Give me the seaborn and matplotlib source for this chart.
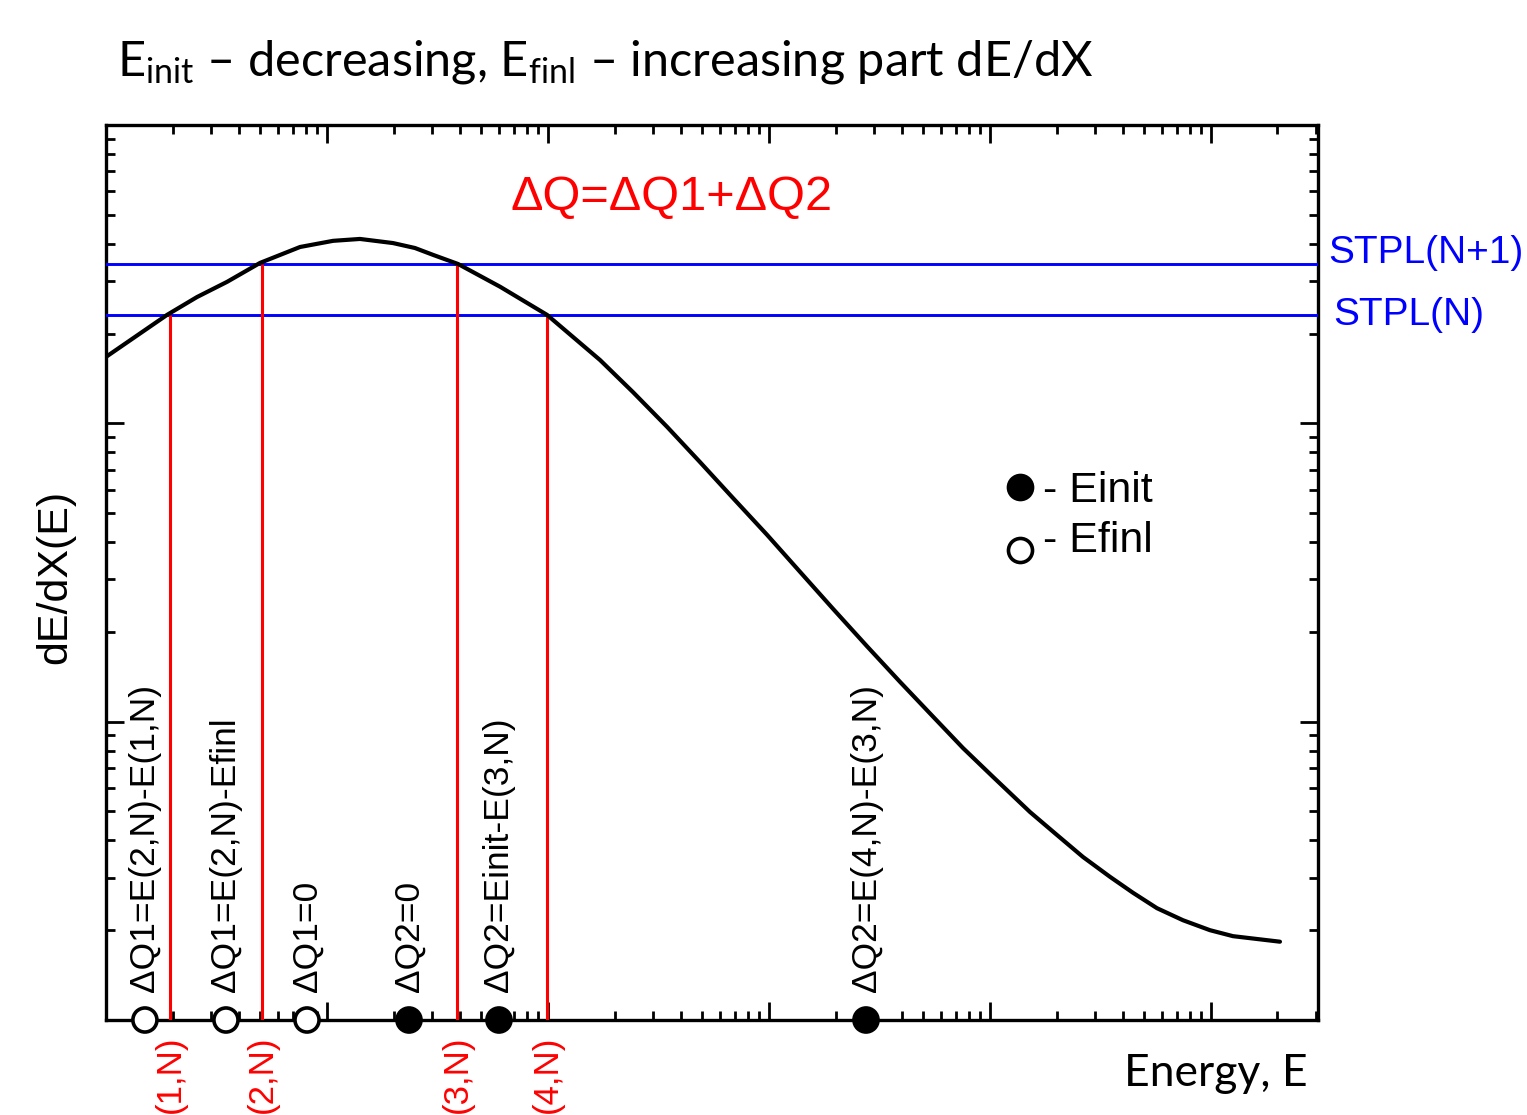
import numpy as np
import pandas as pd
import matplotlib
matplotlib.use("Agg")
import matplotlib.pyplot as plt
import matplotlib.transforms as mtransforms
from matplotlib.ticker import LogLocator, NullFormatter
import seaborn as sns

# Stopping-power curve dE/dX(E)
energy = [1.0, 1.89, 2.58, 3.53, 4.98, 7.55, 10.65, 14.1, 19.9, 25.0, 30.2, 39.2,
          60.7, 99.0, 172, 242, 346, 487, 687, 980, 1381, 1948, 2776, 3915,
          5523, 7547, 10320, 15170, 20100, 26350, 34910, 44370, 56990, 74690,
          98970, 125750, 205200]
dedx = [167, 231, 265, 298, 345, 390, 409, 415, 402, 387, 367, 342,
        287, 231, 163, 127.4, 97.3, 74.2, 56.2, 42.3, 31.8, 23.9, 17.9, 13.6,
        10.4, 8.16, 6.53, 4.98, 4.17, 3.52, 3.02, 2.67, 2.37, 2.16,
        2.00, 1.91, 1.83]

# Tabulated stopping-power levels
stpl_levels = [231, 342]
stpl_labels = ["STPL(N)", "STPL(N+1)"]

# Crossing energies E(k,N) of the curve with the levels
cross_energy = [1.95, 5.08, 38.7, 99.0]
cross_level = [231, 342, 342, 231]
cross_labels = ["(1,N)", "(2,N)", "(3,N)", "(4,N)"]

# Final and initial energies with the resulting energy-loss pieces
efinl = [1.50, 3.49, 8.12]
efinl_notes = ["ΔQ1=E(2,N)-E(1,N)", "ΔQ1=E(2,N)-Efinl", "ΔQ1=0"]
einit = [23.5, 60.0, 2748]
einit_notes = ["ΔQ2=0", "ΔQ2=Einit-E(3,N)", "ΔQ2=E(4,N)-E(3,N)"]

sns.set_style("ticks")
plt.rcParams["font.family"] = ["Liberation Sans", "DejaVu Sans"]
plt.rcParams["text.color"] = "black"
plt.rcParams["mathtext.fontset"] = "custom"
plt.rcParams["mathtext.rm"] = "Lato"
plt.rcParams["mathtext.it"] = "Lato:italic"

W, H = 1527, 1115
fig = plt.figure(figsize=(W / 100, H / 100), dpi=100)
ax = fig.add_axes([106 / W, 1 - 1020 / H, 1212 / W, 895 / H])
ax.set_xscale("log")
ax.set_yscale("log")
ax.set_xlim(1, 3.05e5)
ax.set_ylim(1, 1000)

curve = pd.DataFrame({"E": energy, "dEdX": dedx})
sns.lineplot(data=curve, x="E", y="dEdX", ax=ax, color="black", lw=3.0,
             sort=False, zorder=4)

for lvl in stpl_levels:
    ax.axhline(lvl, color="#0000ff", lw=2.1, zorder=3)
ax.vlines(cross_energy, 1, cross_level, colors="#ff0000", lw=2.2, zorder=3.5)

pts = pd.DataFrame({"E": efinl + einit,
                    "kind": ["Efinl"] * len(efinl) + ["Einit"] * len(einit),
                    "y": [1.0] * (len(efinl) + len(einit))})
sns.scatterplot(data=pts, x="E", y="y", hue="kind",
                palette={"Efinl": "white", "Einit": "black"},
                edgecolor="black", linewidth=2.6, s=300, legend=False,
                ax=ax, zorder=6, clip_on=False)

# Axis styling: log ticks inside on all four sides, no tick labels
for axis in (ax.xaxis, ax.yaxis):
    axis.set_major_locator(LogLocator(base=10, numticks=20))
    axis.set_minor_locator(LogLocator(base=10, subs=np.arange(2, 10), numticks=20))
    axis.set_major_formatter(NullFormatter())
    axis.set_minor_formatter(NullFormatter())
ax.tick_params(which="both", direction="in", top=True, right=True,
               labelbottom=False, labelleft=False, width=2, color="black")
ax.tick_params(which="major", length=13)
ax.tick_params(which="minor", length=6.5)
for s in ax.spines.values():
    s.set_linewidth(2.4)
    s.set_color("black")
ax.set_xlabel("")
ax.set_ylabel("")

trans = mtransforms.blended_transform_factory(ax.transData, ax.transAxes)
for x, t in zip(efinl + einit, efinl_notes + einit_notes):
    ax.text(x, 0.031, t, transform=trans, rotation=90, ha="center",
            va="bottom", fontsize=25.5, color="black")
for x, t in zip(cross_energy, cross_labels):
    ax.text(x, -0.017, t, transform=trans, rotation=90, ha="center",
            va="top", fontsize=25, color="#ff0000", clip_on=False)

ax.text((672 - 106) / 1212, (1020 - 210) / 895, "ΔQ=ΔQ1+ΔQ2",
        transform=ax.transAxes, ha="center", va="baseline",
        color="#ff0000", fontsize=35)
ax.text((1328 - 106) / 1212, (1020 - 263) / 895, stpl_labels[1],
        transform=ax.transAxes, ha="left", va="baseline",
        color="#0000ff", fontsize=28, clip_on=False)
ax.text((1333 - 106) / 1212, (1020 - 325) / 895, stpl_labels[0],
        transform=ax.transAxes, ha="left", va="baseline",
        color="#0000ff", fontsize=28, clip_on=False)

# Marker key
ax.scatter([(1020 - 106) / 1212], [(1020 - 487) / 895], transform=ax.transAxes,
           s=300, c="black", edgecolors="black", linewidths=2.6, zorder=6)
ax.scatter([(1020 - 106) / 1212], [(1020 - 550) / 895], transform=ax.transAxes,
           s=300, c="white", edgecolors="black", linewidths=2.6, zorder=6)
ax.text((1043 - 106) / 1212, (1020 - 502) / 895, "- Einit",
        transform=ax.transAxes, ha="left", va="baseline", fontsize=31)
ax.text((1043 - 106) / 1212, (1020 - 552) / 895, "- Efinl",
        transform=ax.transAxes, ha="left", va="baseline", fontsize=31)

fig.text(117 / W, 1 - 75 / H,
         r"E$_{\mathrm{init}}$ – decreasing, E$_{\mathrm{finl}}$ – increasing part dE/dX",
         family="Lato", fontsize=35, ha="left", va="baseline")
fig.text(55 / W, 1 - 577 / H, "dE/dX(E)", rotation=90, ha="center",
         va="center", fontsize=31)
fig.text(1308 / W, 1 - 1086 / H, "Energy, E", family="Lato", ha="right",
         va="baseline", fontsize=32)

fig.savefig("out.png", dpi=100)
